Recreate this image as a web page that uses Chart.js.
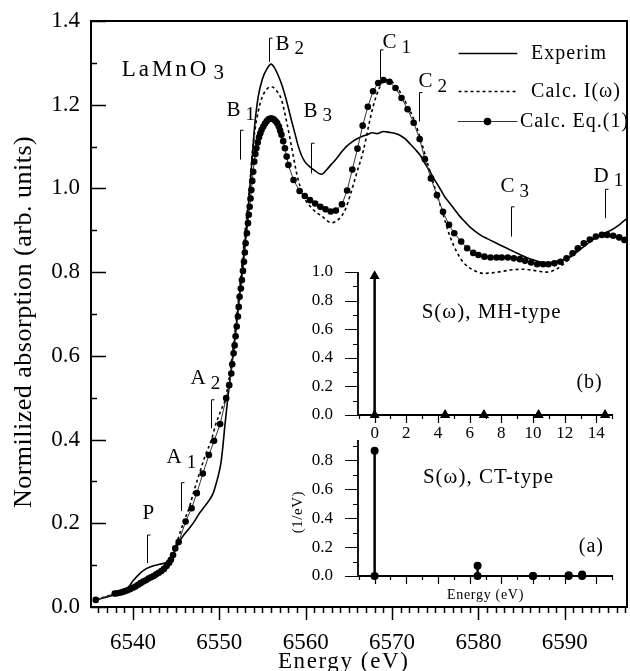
<!DOCTYPE html>
<html>
<head>
<meta charset="utf-8">
<script src="https://cdn.jsdelivr.net/npm/chart.js@4.4.1/dist/chart.umd.min.js"></script>
<style>
  html, body { margin: 0; padding: 0; background: #fff; }
  #wrap { position: relative; width: 630px; height: 671px; overflow: hidden; }
  canvas { position: absolute; }
</style>
</head>
<body>
<div id="wrap">
  <canvas id="main" width="630" height="671" style="left:0;top:0"></canvas>
  <canvas id="insetB" width="350" height="200" style="left:280px;top:250px"></canvas>
  <canvas id="insetA" width="350" height="185" style="left:280px;top:425px"></canvas>
</div>
<script>
const SERIF = "'Liberation Serif', 'Times New Roman', serif";

// ---- main spectra (energy in eV, normalized absorption) ----
const expEnergy = [6535.7, 6537.0, 6538.0, 6538.8, 6539.5, 6540.0, 6540.7, 6541.5, 6542.3, 6543.1,
  6543.8, 6544.3, 6544.8, 6545.4, 6546.0, 6546.6, 6547.2, 6547.7, 6548.3, 6548.9,
  6549.3, 6549.6, 6549.9, 6550.2, 6550.4, 6550.6, 6551.0, 6551.6, 6552.0, 6552.4,
  6552.8, 6553.2, 6553.5, 6553.8, 6554.1, 6554.5, 6555.0, 6555.5, 6556.0, 6556.4,
  6556.8, 6557.2, 6557.6, 6558.0, 6558.4, 6558.8, 6559.1, 6559.5, 6559.9, 6560.3,
  6560.7, 6561.1, 6561.5, 6561.9, 6562.4, 6563.0, 6563.6, 6564.2, 6564.7, 6565.3,
  6565.9, 6566.5, 6567.1, 6567.7, 6568.3, 6569.0, 6569.7, 6570.4, 6571.0, 6571.6,
  6572.1, 6572.7, 6573.3, 6573.8, 6574.4, 6575.0, 6575.6, 6576.1, 6576.7, 6577.3,
  6577.9, 6578.5, 6579.0, 6579.6, 6580.2, 6581.0, 6581.7, 6582.5, 6583.3, 6584.1,
  6584.9, 6585.7, 6586.4, 6587.2, 6588.0, 6588.8, 6589.5, 6590.1, 6590.7, 6591.4,
  6592.2, 6593.0, 6593.8, 6594.4, 6594.9, 6595.5, 6596.1, 6596.7, 6597.3];
const expValue = [0.017, 0.024, 0.030, 0.036, 0.048, 0.062, 0.078, 0.091, 0.098, 0.102,
  0.106, 0.113, 0.132, 0.157, 0.175, 0.190, 0.207, 0.224, 0.240, 0.257,
  0.272, 0.292, 0.315, 0.345, 0.380, 0.423, 0.502, 0.606, 0.680, 0.757,
  0.835, 0.920, 0.990, 1.070, 1.150, 1.218, 1.262, 1.285, 1.297, 1.288,
  1.271, 1.250, 1.223, 1.192, 1.159, 1.128, 1.104, 1.080, 1.064, 1.055,
  1.048, 1.042, 1.036, 1.034, 1.044, 1.058, 1.072, 1.088, 1.100, 1.110,
  1.118, 1.124, 1.128, 1.133, 1.131, 1.136, 1.134, 1.131, 1.126, 1.117,
  1.106, 1.093, 1.078, 1.060, 1.040, 1.018, 0.998, 0.980, 0.964, 0.948,
  0.932, 0.919, 0.908, 0.898, 0.889, 0.880, 0.873, 0.865, 0.857, 0.849,
  0.841, 0.834, 0.829, 0.824, 0.822, 0.824, 0.828, 0.832, 0.838, 0.848,
  0.861, 0.874, 0.885, 0.891, 0.896, 0.902, 0.910, 0.920, 0.930];

const calcIEnergy = [6535.7, 6537.0, 6538.0, 6539.0, 6540.0, 6541.0, 6542.0, 6543.0, 6543.8, 6544.6,
  6545.1, 6545.9, 6546.5, 6547.0, 6547.7, 6548.4, 6549.1, 6549.6, 6550.2, 6550.75,
  6551.5, 6552.05, 6552.55, 6553.0, 6553.5, 6553.8, 6554.1, 6554.5, 6554.9, 6555.5,
  6556.05, 6556.6, 6557.2, 6557.8, 6558.4, 6559.0, 6559.7, 6560.7, 6561.9, 6563.0,
  6564.0, 6564.6, 6565.1, 6565.9, 6566.7, 6567.3, 6567.8, 6568.6, 6569.2, 6569.9,
  6570.6, 6571.3, 6572.1, 6572.7, 6573.3, 6573.9, 6574.4, 6575.2, 6576.0, 6576.7,
  6577.5, 6578.3, 6579.4, 6580.6, 6582.2, 6583.7, 6585.2, 6586.8, 6587.9, 6589.1,
  6590.3, 6591.4, 6592.6, 6593.4, 6594.1, 6594.8, 6595.5, 6596.2, 6596.8, 6597.3];
const calcIValue = [0.017, 0.026, 0.032, 0.038, 0.047, 0.057, 0.068, 0.082, 0.097, 0.124,
  0.155, 0.204, 0.236, 0.272, 0.319, 0.363, 0.400, 0.437, 0.470, 0.500,
  0.600, 0.700, 0.800, 0.900, 1.000, 1.080, 1.135, 1.183, 1.215, 1.237,
  1.243, 1.234, 1.212, 1.159, 1.096, 1.032, 0.984, 0.953, 0.933, 0.918,
  0.930, 0.950, 0.980, 1.036, 1.092, 1.150, 1.195, 1.243, 1.259, 1.256,
  1.241, 1.216, 1.185, 1.155, 1.118, 1.075, 1.040, 0.985, 0.932, 0.886,
  0.848, 0.822, 0.805, 0.797, 0.800, 0.805, 0.807, 0.803, 0.800, 0.808,
  0.828, 0.852, 0.869, 0.879, 0.884, 0.886, 0.884, 0.879, 0.873, 0.868];

const eqEnergy = [6535.7, 6537.9, 6538.2, 6538.5, 6538.8, 6539.1, 6539.4, 6539.7, 6540.0, 6540.3,
  6540.6, 6540.9, 6541.2, 6541.5, 6541.8, 6542.1, 6542.4, 6542.7, 6543.0, 6543.3,
  6543.6, 6543.9, 6544.2, 6544.4, 6544.65, 6544.9, 6545.3, 6546.1, 6546.8, 6547.4,
  6548.1, 6548.8, 6549.4, 6550.1, 6550.8, 6551.15, 6551.39, 6551.5, 6551.66, 6551.78,
  6551.89, 6552.02, 6552.16, 6552.25, 6552.35, 6552.5, 6552.62, 6552.74, 6552.86, 6552.96,
  6553.05, 6553.2, 6553.32, 6553.42, 6553.52, 6553.62, 6553.71, 6553.82, 6553.93, 6554.05,
  6554.18, 6554.3, 6554.45, 6554.6, 6554.75, 6554.9, 6555.1, 6555.3, 6555.5, 6555.7,
  6555.9, 6556.1, 6556.3, 6556.5, 6556.7, 6556.9, 6557.05, 6557.2, 6557.4, 6557.6,
  6557.8, 6558.0, 6558.6, 6559.3, 6559.9, 6560.5, 6561.1, 6561.7, 6562.3, 6562.9,
  6563.5, 6564.2, 6564.8, 6565.4, 6566.0, 6566.6, 6567.2, 6567.8, 6568.4, 6569.0,
  6569.7, 6570.4, 6571.1, 6571.8, 6572.5, 6573.2, 6573.8, 6574.5, 6575.2, 6575.9,
  6576.6, 6577.2, 6578.0, 6578.7, 6579.4, 6580.0, 6580.7, 6581.4, 6582.1, 6582.7,
  6583.4, 6584.1, 6584.8, 6585.4, 6586.1, 6586.8, 6587.5, 6588.1, 6588.8, 6589.5,
  6590.2, 6590.9, 6591.5, 6592.2, 6592.9, 6593.6, 6594.3, 6594.9, 6595.6, 6596.3,
  6596.9, 6597.5];
const eqValue = [0.017, 0.032, 0.033, 0.034, 0.036, 0.038, 0.040, 0.043, 0.046, 0.049,
  0.053, 0.057, 0.061, 0.064, 0.068, 0.071, 0.074, 0.078, 0.082, 0.086,
  0.091, 0.098, 0.106, 0.113, 0.124, 0.140, 0.155, 0.204, 0.236, 0.272,
  0.319, 0.363, 0.397, 0.437, 0.499, 0.530, 0.558, 0.580, 0.606, 0.625,
  0.647, 0.670, 0.694, 0.717, 0.741, 0.761, 0.781, 0.803, 0.825, 0.847,
  0.869, 0.893, 0.917, 0.937, 0.956, 0.976, 0.996, 1.018, 1.040, 1.064,
  1.082, 1.096, 1.110, 1.122, 1.132, 1.140, 1.148, 1.155, 1.161, 1.165,
  1.167, 1.167, 1.165, 1.161, 1.156, 1.148, 1.138, 1.128, 1.113, 1.096,
  1.076, 1.056, 1.020, 0.994, 0.982, 0.972, 0.964, 0.956, 0.950, 0.945,
  0.947, 0.962, 0.995, 1.045, 1.095, 1.150, 1.195, 1.232, 1.252, 1.259,
  1.255, 1.240, 1.216, 1.189, 1.157, 1.118, 1.070, 1.024, 0.984, 0.944,
  0.913, 0.893, 0.873, 0.857, 0.846, 0.841, 0.837, 0.835, 0.835, 0.835,
  0.835, 0.833, 0.831, 0.827, 0.823, 0.819, 0.819, 0.819, 0.821, 0.825,
  0.833, 0.845, 0.857, 0.869, 0.878, 0.885, 0.889, 0.889, 0.887, 0.883,
  0.877, 0.870];

const mainXTicks = [6540, 6550, 6560, 6570, 6580, 6590];
const mainYTicks = [0, 0.2, 0.4, 0.6, 0.8, 1.0, 1.2, 1.4];

// feature marks on the spectrum
const peakNames = ['P', 'A', 'A', 'B', 'B', 'B', 'C', 'C', 'C', 'D'];
const peakSubs = ['', '1', '2', '1', '2', '3', '1', '2', '3', '1'];
const peakEnergy = [6541.65, 6545.6, 6549.0, 6552.44, 6555.75, 6560.6, 6568.6, 6573.1, 6583.8, 6594.7];
const peakLow = [0.105, 0.229, 0.427, 1.069, 1.302, 1.036, 1.263, 1.160, 0.885, 0.929];
const peakHigh = [0.172, 0.297, 0.495, 1.139, 1.359, 1.108, 1.331, 1.229, 0.956, 0.998];

// ---- inset: spectral weights S(omega) ----
const mhEnergy = [0, 4.45, 6.9, 10.35, 14.55];
const mhWeight = [0.972, 0, 0, 0, 0];
const ctEnergy = [0, 6.5, 10.0, 12.25, 13.1];
const ctWeight = [0.865, 0.071, 0, 0.006, 0.01];
const insetXTicks = [0, 2, 4, 6, 8, 10, 12, 14];
const insetBYTicks = [0, 0.2, 0.4, 0.6, 0.8, 1.0];
const insetAYTicks = [0, 0.2, 0.4, 0.6, 0.8];

const pairs = (xs, ys) => xs.map((x, i) => ({ x: x, y: ys[i] }));

// label text offsets from the top of each mark, px
const peakTextOffset = [[-5, -22], [-15, -25], [-21, -21], [-14, -20], [6, 6],
  [-8, -32], [2, -7], [-1, -11], [-11, -20], [-12, -13]];

function drawLabel(ctx, str, sub, x, y, size, spacing, subSize, subGap, subDrop) {
  ctx.font = size + 'px ' + SERIF;
  ctx.letterSpacing = spacing + 'px';
  ctx.textAlign = 'left';
  ctx.textBaseline = 'middle';
  ctx.fillText(str, x, y);
  if (sub) {
    const w = ctx.measureText(str).width;
    ctx.font = subSize + 'px ' + SERIF;
    ctx.fillText(sub, x + w + subGap, y + subDrop);
  }
}

function drawTicks(ctx, scale, area, t, horizontal) {
  ctx.lineWidth = t.width;
  ctx.beginPath();
  const start = Math.ceil((scale.min - 1e-9) / t.minor) * t.minor;
  for (let v = start; v <= scale.max + 1e-9; v += t.minor) {
    const k = v / t.major;
    const len = Math.abs(k - Math.round(k)) < 1e-6 ? t.majorLen : t.minorLen;
    const p = Math.round(scale.getPixelForValue(v)) + 0.5;
    if (horizontal) {
      ctx.moveTo(p, area.bottom);
      ctx.lineTo(p, area.bottom + t.dir * len);
    } else {
      ctx.moveTo(area.left, p);
      ctx.lineTo(area.left + t.dir * len, p);
    }
  }
  ctx.stroke();
}

const figureDecor = {
  id: 'figureDecor',
  afterDraw(chart, args, o) {
    const ctx = chart.ctx, a = chart.chartArea;
    const xs = chart.scales.x, ys = chart.scales.y;
    ctx.save();
    ctx.strokeStyle = '#000';
    ctx.fillStyle = '#000';
    ctx.lineWidth = o.frameWidth;
    ctx.beginPath();
    if (o.box) {
      ctx.rect(a.left, a.top, a.right - a.left, a.bottom - a.top);
    } else {
      ctx.moveTo(a.left, a.top);
      ctx.lineTo(a.left, a.bottom);
      ctx.lineTo(a.right, a.bottom);
    }
    ctx.stroke();
    drawTicks(ctx, xs, a, o.xTicks, true);
    drawTicks(ctx, ys, a, o.yTicks, false);

    if (o.peaks) {
      ctx.lineWidth = 1;
      peakEnergy.forEach((e, i) => {
        const x = Math.round(xs.getPixelForValue(e)) + 0.5;
        const top = ys.getPixelForValue(peakHigh[i]);
        const bot = ys.getPixelForValue(peakLow[i]);
        ctx.beginPath();
        ctx.moveTo(x + 3, top);
        ctx.lineTo(x, top);
        ctx.lineTo(x, bot);
        ctx.stroke();
        const off = peakTextOffset[i];
        drawLabel(ctx, peakNames[i], peakSubs[i], x + off[0], top + off[1], 21, 0, 19, 5, 5);
      });
    }

    if (o.legend) {
      o.legend.forEach(item => {
        const ds = chart.data.datasets[item.ds];
        const x0 = xs.getPixelForValue(item.e0), x1 = xs.getPixelForValue(item.e1);
        const y = Math.round(ys.getPixelForValue(item.v)) + 0.5;
        ctx.save();
        ctx.strokeStyle = ds.borderColor;
        ctx.lineWidth = ds.borderWidth;
        ctx.setLineDash(ds.borderDash || []);
        ctx.beginPath();
        ctx.moveTo(x0, y);
        ctx.lineTo(x1, y);
        ctx.stroke();
        ctx.restore();
        if (ds.pointRadius) {
          ctx.beginPath();
          ctx.arc((x0 + x1) / 2, y, ds.pointRadius + 0.5, 0, Math.PI * 2);
          ctx.fill();
        }
        drawLabel(ctx, ds.label, '', xs.getPixelForValue(item.te), y, 20, 1, 0, 0, 0);
      });
    }

    (o.texts || []).forEach(t => {
      const x = xs.getPixelForValue(t.e), y = ys.getPixelForValue(t.v);
      if (t.rotate) {
        ctx.save();
        ctx.translate(x, y);
        ctx.rotate(-Math.PI / 2);
        ctx.font = t.size + 'px ' + SERIF;
        ctx.letterSpacing = t.spacing + 'px';
        ctx.textAlign = 'center';
        ctx.textBaseline = 'middle';
        ctx.fillText(t.text, 0, 0);
        ctx.restore();
      } else if (t.center) {
        ctx.font = t.size + 'px ' + SERIF;
        ctx.letterSpacing = t.spacing + 'px';
        ctx.textAlign = 'center';
        ctx.textBaseline = t.baseline || 'middle';
        ctx.fillText(t.text, x, y);
      } else {
        drawLabel(ctx, t.text, t.sub, x, y, t.size, t.spacing, t.size - 2, 4, 4);
      }
    });
    ctx.letterSpacing = '0px';
    ctx.restore();
  }
};

function tickCallback(digits) {
  return v => digits === 0 ? String(v) : Number(v).toFixed(digits);
}

// fixed axis box sizes, no extra label padding around the plot area
function fixedSize(prop, size) {
  return s => {
    s[prop] = size;
    s.paddingTop = 0; s.paddingBottom = 0; s.paddingLeft = 0; s.paddingRight = 0;
  };
}

function axis(min, max, values, fit, tickOpts) {
  return Object.assign({
    type: 'linear', min: min, max: max,
    grid: { display: false, drawTicks: false },
    border: { display: false },
    afterBuildTicks: s => { s.ticks = values.map(v => ({ value: v })); },
    afterFit: fit
  }, tickOpts);
}

// ---- main chart ----
new Chart(document.getElementById('main'), {
  type: 'scatter',
  data: {
    datasets: [
      { label: 'Experim', data: pairs(expEnergy, expValue), showLine: true,
        borderColor: '#000', borderWidth: 1.6, pointRadius: 0,
        cubicInterpolationMode: 'monotone', order: 2 },
      { label: 'Calc. I(\u03c9)', data: pairs(calcIEnergy, calcIValue), showLine: true,
        borderColor: '#000', borderWidth: 1.6, borderDash: [3, 3], pointRadius: 0,
        cubicInterpolationMode: 'monotone', order: 3 },
      { label: 'Calc. Eq.(1)', data: pairs(eqEnergy, eqValue), showLine: true,
        borderColor: '#333', borderWidth: 1, pointRadius: 3.3,
        pointBackgroundColor: '#000', pointBorderWidth: 0, order: 1 }
    ]
  },
  options: {
    responsive: false, animation: false, devicePixelRatio: 1,
    layout: { autoPadding: false, padding: { top: 21, right: 3, left: 0, bottom: 0 } },
    plugins: {
      legend: { display: false }, tooltip: { enabled: false },
      figureDecor: {
        box: true, frameWidth: 2,
        xTicks: { major: 10, minor: 1, majorLen: 13, minorLen: 6, dir: 1, width: 1.5 },
        yTicks: { major: 0.2, minor: 0.1, majorLen: 15, minorLen: 6, dir: 1, width: 1.5 },
        peaks: true,
        legend: [
          { ds: 0, e0: 6577.7, e1: 6584.5, te: 6586.1, v: 1.3235 },
          { ds: 1, e0: 6577.7, e1: 6584.5, te: 6586.1, v: 1.2334 },
          { ds: 2, e0: 6577.6, e1: 6584.5, te: 6584.8, v: 1.1617 }
        ],
        texts: [
          { text: 'LaMnO', sub: '3', e: 6538.7, v: 1.283, size: 23, spacing: 3 },
          { text: 'Normilized absorption (arb. units)', e: 6527.4, v: 0.681, size: 26, spacing: 0.5, rotate: true },
          { text: 'Energy (eV)', e: 6564.4, v: -0.146, size: 23, spacing: 1.6, center: true, baseline: 'alphabetic' }
        ]
      }
    },
    scales: {
      x: axis(6535.15, 6597.2, mainXTicks, fixedSize('height', 64),
        { ticks: { padding: 22, color: '#000', font: { family: SERIF, size: 23 },
          maxRotation: 0, autoSkip: false, callback: tickCallback(0) } }),
      y: axis(0, 1.4, mainYTicks, fixedSize('width', 91),
        { ticks: { padding: 11, color: '#000', font: { family: SERIF, size: 23 },
          autoSkip: false, callback: tickCallback(1) } })
    }
  },
  plugins: [figureDecor]
});

// ---- insets ----
function stemSets(energy, weight, style, radius) {
  return energy.map((e, i) => ({
    data: [{ x: e, y: 0 }, { x: e, y: weight[i] }],
    showLine: true, borderColor: '#000', borderWidth: 2.5,
    pointStyle: style, pointRadius: radius, pointBackgroundColor: '#000',
    pointBorderWidth: 0, clip: false
  }));
}

function insetOptions(yMax, yTicks, showX, padTop, xHeight, decor) {
  return {
    responsive: false, animation: false, devicePixelRatio: 1,
    layout: { autoPadding: false, padding: { top: padTop, right: 17, left: 0, bottom: 0 } },
    plugins: { legend: { display: false }, tooltip: { enabled: false }, figureDecor: decor },
    scales: {
      x: axis(-1.05, 15.05, insetXTicks, fixedSize('height', xHeight),
        { ticks: { display: showX, padding: 8, color: '#000', font: { family: SERIF, size: 17 },
          maxRotation: 0, autoSkip: false, callback: tickCallback(0) } }),
      y: axis(0, yMax, yTicks, fixedSize('width', 78),
        { ticks: { padding: 25, color: '#000', font: { family: SERIF, size: 17 },
          autoSkip: false, callback: tickCallback(1) } })
    }
  };
}

const insetXTickStyle = { major: 2, minor: 1, majorLen: 8, minorLen: 4, dir: 1, width: 1.2 };
const insetYTickStyle = { major: 0.2, minor: 0.1, majorLen: 13, minorLen: 5, dir: -1, width: 1.2 };

new Chart(document.getElementById('insetB'), {
  type: 'scatter',
  data: { datasets: stemSets(mhEnergy, mhWeight, 'triangle', 5.8) },
  options: insetOptions(1.0, insetBYTicks, true, 22, 35, {
    box: false, frameWidth: 1.8, xTicks: insetXTickStyle, yTicks: insetYTickStyle,
    texts: [
      { text: 'S(\u03c9), MH-type', e: 2.97, v: 0.72, size: 21, spacing: 1 },
      { text: '(b)', e: 12.74, v: 0.224, size: 20, spacing: 1 }
    ]
  }),
  plugins: [figureDecor]
});

new Chart(document.getElementById('insetA'), {
  type: 'scatter',
  data: { datasets: stemSets(ctEnergy, ctWeight, 'circle', 4) },
  options: insetOptions(0.94, insetAYTicks, false, 15, 34, {
    box: false, frameWidth: 1.8, xTicks: insetXTickStyle, yTicks: insetYTickStyle,
    texts: [
      { text: 'S(\u03c9), CT-type', e: 3.05, v: 0.684, size: 21, spacing: 1 },
      { text: '(a)', e: 12.89, v: 0.2, size: 20, spacing: 1 },
      { text: 'Energy (eV)', e: 7.0, v: -0.131, size: 14, spacing: 0.7, center: true },
      { text: '(1/eV)', e: -4.84, v: 0.442, size: 15, spacing: 0.5, rotate: true }
    ]
  }),
  plugins: [figureDecor]
});
</script>
</body>
</html>
